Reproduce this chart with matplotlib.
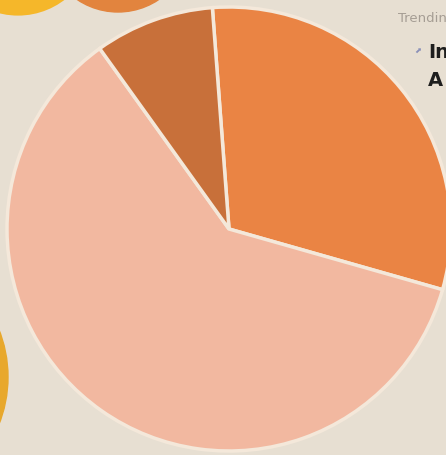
import matplotlib.pyplot as plt
from matplotlib.patches import Circle

# ====== Veri ======
labels = ["Orange", "Peach", "Rust"]
shares = [30.6, 60.7, 8.7]
colors = ["#ea8444", "#f2b8a0", "#c8703a"]

W, H = 446, 456
BG = "#e7dfd2"

fig = plt.figure(figsize=(W / 100, H / 100), dpi=100)
fig.patch.set_facecolor(BG)
ax = fig.add_axes([0, 0, 1, 1])
ax.set_xlim(0, W)
ax.set_ylim(0, H)
ax.set_aspect("equal")
ax.axis("off")

# arka plandaki dekoratif daireler
ax.add_patch(Circle((118, H + 60), 73, color="#e2843e", zorder=1))
ax.add_patch(Circle((18, H + 60), 78, color="#f5b72a", ec=BG, lw=2, zorder=1.5))
ax.add_patch(Circle((-120, H - 378), 128, color="#e8a82c", zorder=1))

# ====== Pasta grafiği ======
ax.pie(shares, colors=colors, center=(229, 226), radius=222,
       startangle=94.3, counterclock=False,
       wedgeprops=dict(edgecolor="#f4e8da", linewidth=2.5, zorder=2))
ax.set_xlim(0, W)
ax.set_ylim(0, H)

# sağ üstteki kesik başlık metinleri
ax.text(398, H - 18, "Trending", color="#a59d94", fontsize=9.5, va="center")
ax.text(414, H - 50, "⬈", color="#8a90b8", fontsize=6, va="center")
ax.text(428, H - 52, "In", color="#1e1e1e", fontsize=14, fontweight="bold", va="center")
ax.text(428, H - 81, "A", color="#1e1e1e", fontsize=14, fontweight="bold", va="center")

fig.savefig("out.png", dpi=100, facecolor=BG)
